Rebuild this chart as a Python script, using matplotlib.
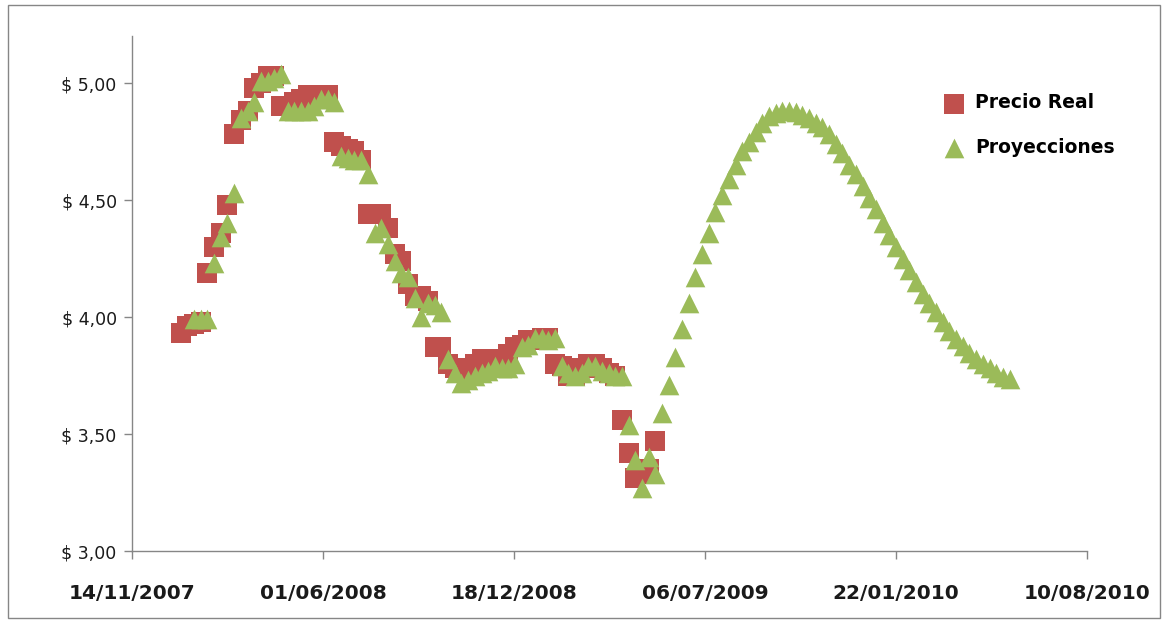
import matplotlib
matplotlib.use("Agg")
import matplotlib.pyplot as plt
import pandas as pd
from matplotlib.patches import Rectangle

# Weekly observations starting on this date
first_week = "2008-01-04"

# Observed price (weekly)
precio_real = [
    3.93, 3.96, 3.97, 3.98, 4.19, 4.30, 4.36, 4.48, 4.78, 4.84,
    4.88, 4.98, 5.00, 5.03, 5.03, 4.90, 4.90, 4.92, 4.93, 4.95,
    4.95, 4.95, 4.95, 4.75, 4.73, 4.72, 4.71, 4.67, 4.44, 4.44,
    4.44, 4.38, 4.27, 4.24, 4.14, 4.09, 4.09, 4.07, 3.87, 3.87,
    3.80, 3.78, 3.77, 3.78, 3.80, 3.82, 3.82, 3.81, 3.80, 3.84,
    3.87, 3.88, 3.90, 3.90, 3.91, 3.91, 3.80, 3.79, 3.75, 3.75,
    3.78, 3.80, 3.80, 3.78, 3.76, 3.75, 3.56, 3.42, 3.31, 3.33,
    3.35, 3.47,
]

# Projected price (weekly), begins two weeks after the first observation
proy_start_week = 2
proyecciones = [
    3.99, 3.99, 3.99, 4.23, 4.34, 4.40, 4.53, 4.85, 4.88, 4.92,
    5.01, 5.01, 5.02, 5.04, 4.88, 4.88, 4.88, 4.88, 4.90, 4.93,
    4.93, 4.92, 4.69, 4.68, 4.67, 4.67, 4.61, 4.36, 4.38, 4.31,
    4.24, 4.19, 4.17, 4.08, 4.00, 4.06, 4.05, 4.02, 3.82, 3.76,
    3.72, 3.73, 3.75, 3.76, 3.77, 3.79, 3.78, 3.78, 3.80, 3.87,
    3.88, 3.91, 3.91, 3.90, 3.91, 3.79, 3.76, 3.75, 3.76, 3.79,
    3.79, 3.77, 3.76, 3.75, 3.75, 3.54, 3.39, 3.27, 3.40, 3.33,
    3.59, 3.71, 3.83, 3.95, 4.06, 4.17, 4.27, 4.36, 4.45, 4.52,
    4.59, 4.65, 4.71, 4.75, 4.79, 4.83, 4.86, 4.87, 4.88, 4.88,
    4.875, 4.865, 4.85, 4.83, 4.81, 4.78, 4.74, 4.70, 4.65, 4.61,
    4.56, 4.51, 4.46, 4.40, 4.35, 4.30, 4.25, 4.20, 4.15, 4.10,
    4.06, 4.02, 3.98, 3.94, 3.905, 3.875, 3.845, 3.82, 3.80, 3.78,
    3.76, 3.745, 3.735,
]

x_tick_labels = ["14/11/2007", "01/06/2008", "18/12/2008",
                 "06/07/2009", "22/01/2010", "10/08/2010"]
y_tick_values = [3.0, 3.5, 4.0, 4.5, 5.0]
y_tick_labels = ["$ 3,00", "$ 3,50", "$ 4,00", "$ 4,50", "$ 5,00"]

series_names = ["Precio Real", "Proyecciones"]
color_real = "#C0504D"
color_proy = "#9BBB59"
axis_color = "#868686"

weeks = pd.date_range(first_week, periods=proy_start_week + len(proyecciones), freq="7D")
fechas_real = weeks[:len(precio_real)]
fechas_proy = weeks[proy_start_week:proy_start_week + len(proyecciones)]

plt.rcParams["font.family"] = ["DejaVu Sans"]

fig = plt.figure(figsize=(11.66, 6.22), dpi=100)
ax = fig.add_axes([0.1132, 0.1141, 0.8190, 0.8277])

ax.scatter(fechas_real, precio_real, marker="s", s=200, color=color_real,
           linewidths=0, label=series_names[0], zorder=3)
ax.scatter(fechas_proy, proyecciones, marker="^", s=200, color=color_proy,
           linewidths=0, label=series_names[1], zorder=4)

tick_dates = pd.to_datetime(x_tick_labels, dayfirst=True)
ax.set_xlim(tick_dates[0], tick_dates[-1])
ax.set_xticks(tick_dates)
ax.set_xticklabels(x_tick_labels, fontsize=14.5, fontweight="bold", color="#1a1a1a")
ax.set_ylim(3.0, 5.2)
ax.set_yticks(y_tick_values)
ax.set_yticklabels(y_tick_labels, fontsize=12.5, color="#1a1a1a")

for side in ("top", "right"):
    ax.spines[side].set_visible(False)
for side in ("left", "bottom"):
    ax.spines[side].set_color(axis_color)
    ax.spines[side].set_linewidth(1.0)

ax.tick_params(axis="x", direction="out", length=6, width=1, color=axis_color, pad=18)
ax.tick_params(axis="y", direction="out", length=6, width=1, color=axis_color, pad=5)

leg = ax.legend(loc="upper left", bbox_to_anchor=(928 / 1166, 1 - 86 / 622),
                bbox_transform=fig.transFigure, frameon=False, scatterpoints=1,
                handletextpad=0.1, labelspacing=1.35, borderaxespad=0,
                prop={"size": 13.5, "weight": "bold"})

# Outer chart border
fig.patches.append(Rectangle((8 / 1166, 4 / 622), 1152 / 1166, 613 / 622,
                             transform=fig.transFigure, fill=False,
                             edgecolor=axis_color, linewidth=1.0))

fig.savefig("out.png", dpi=100, facecolor="white")
